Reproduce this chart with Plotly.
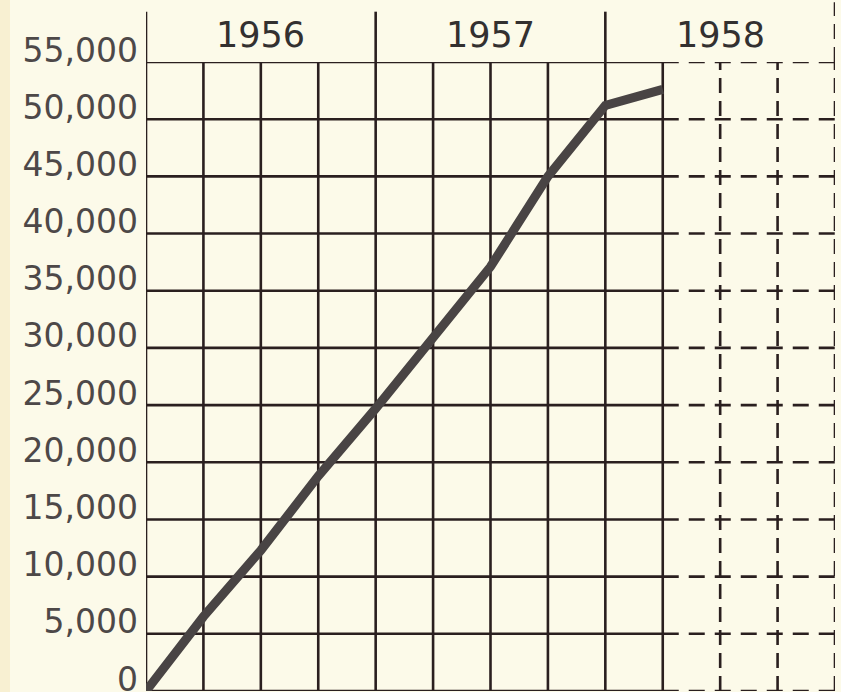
import plotly.graph_objects as go

# ---- data ----
years = ["1956", "1957", "1958"]
quarters_per_year = 4
quarter_index = [0, 1, 2, 3, 4, 5, 6, 7, 8, 9]
values = [0, 6500, 12300, 18800, 24700, 31000, 37100, 45000, 51200, 52600]
y_ticks = [0, 5000, 10000, 15000, 20000, 25000, 30000, 35000, 40000, 45000, 50000, 55000]
y_tick_labels = ["0", "5,000", "10,000", "15,000", "20,000", "25,000", "30,000",
                 "35,000", "40,000", "45,000", "50,000", "55,000"]
solid_end = 9          # quarters drawn with a solid grid
total_quarters = len(years) * quarters_per_year

bg = "#FCFAE9"
grid_color = "#2a1f1f"
grid_w = 2.6
dash_h = "16px,10px"
dash_v = "15px,8px"

fig = go.Figure()
fig.add_trace(go.Scatter(
    x=quarter_index, y=values, mode="lines",
    line=dict(color="#494444", width=9),
    hoverinfo="skip", showlegend=False,
))

ymax = y_ticks[-1]
# horizontal grid
for yv in y_ticks:
    fig.add_shape(type="line", xref="x", yref="y", x0=0, x1=solid_end, y0=yv, y1=yv,
                  line=dict(color=grid_color, width=grid_w), layer="below")
    fig.add_shape(type="line", xref="x", yref="y", x0=solid_end, x1=total_quarters, y0=yv, y1=yv,
                  line=dict(color=grid_color, width=grid_w, dash=dash_h), layer="below")
# vertical grid
for q in range(total_quarters + 1):
    if q <= solid_end:
        ln = dict(color=grid_color, width=grid_w)
    else:
        ln = dict(color=grid_color, width=grid_w, dash=dash_v)
    fig.add_shape(type="line", xref="x", yref="y", x0=q, x1=q, y0=0, y1=ymax,
                  line=ln, layer="below")

# year dividers above the grid
for i in range(len(years) + 1):
    xq = i * quarters_per_year
    if xq <= solid_end:
        ln = dict(color=grid_color, width=grid_w)
        y_top = 1.08
    else:
        ln = dict(color=grid_color, width=grid_w, dash=dash_v)
        y_top = 1.095
    fig.add_shape(type="line", xref="x", yref="paper", x0=xq, x1=xq, y0=1, y1=y_top,
                  line=ln, layer="below")

# faint yellowish strip at the left edge of the sheet
fig.add_shape(type="rect", xref="paper", yref="paper", x0=-146 / 689, x1=-136 / 689,
              y0=-0.01, y1=1.2, fillcolor="#F8F0D2", line=dict(width=0), layer="below")

# year labels
for i, yr in enumerate(years):
    fig.add_annotation(x=i * quarters_per_year + quarters_per_year / 2, y=1, xref="x", yref="paper",
                       yanchor="middle", yshift=27, text=yr, showarrow=False,
                       font=dict(family="DejaVu Sans", size=35, color="#333030"))

fig.update_layout(
    width=841, height=692,
    margin=dict(l=146, r=6, t=62, b=1, autoexpand=False),
    paper_bgcolor=bg, plot_bgcolor=bg,
    showlegend=False,
    xaxis=dict(range=[0, total_quarters], showgrid=False, zeroline=False,
               showticklabels=False, ticks="", showline=False, fixedrange=True),
    yaxis=dict(range=[0, ymax], showgrid=False, zeroline=False, showline=False,
               tickmode="array", tickvals=y_ticks, ticktext=y_tick_labels,
               ticks="", ticklabelshift=-12, ticklabelstandoff=7, automargin=False,
               ticklabeloverflow="allow",
               tickfont=dict(family="DejaVu Sans", size=33, color="#4d4848"),
               fixedrange=True),
)

fig.write_html("out.html", config={"displayModeBar": False},
               post_script="document.body.style.margin='0';document.body.style.overflow='hidden';")
